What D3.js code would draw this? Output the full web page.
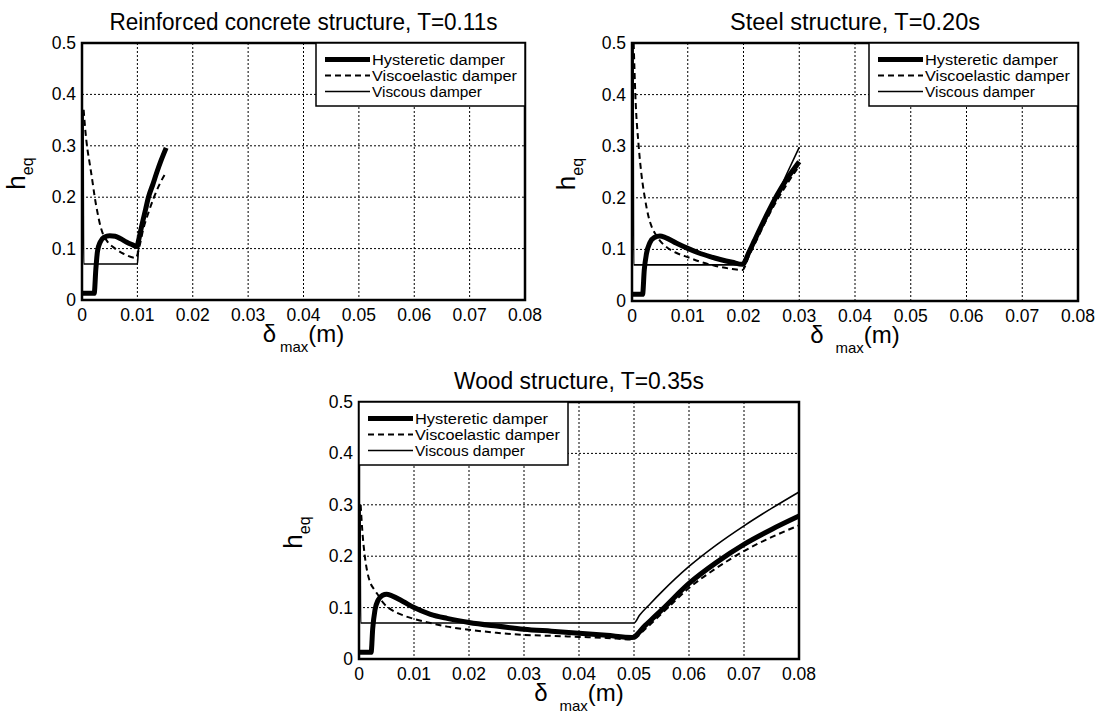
<!DOCTYPE html>
<html>
<head>
<meta charset="utf-8">
<script src="https://cdn.jsdelivr.net/npm/d3@7/dist/d3.min.js"></script>
<style>
  body { margin: 0; background: #fff; }
  text { font-family: "Liberation Sans", Arial, sans-serif; fill: #000; }
  .title { font-family: "Liberation Sans Narrow", "Liberation Sans", Arial, sans-serif; }
</style>
</head>
<body>
<svg id="chart" width="1095" height="717"></svg>
<script>
// ── axis ticks ─────────────────────────────
const X_TICKS = [0, 0.01, 0.02, 0.03, 0.04, 0.05, 0.06, 0.07, 0.08];
const Y_TICKS = [0, 0.1, 0.2, 0.3, 0.4, 0.5];
const SERIES_NAMES = ["Hysteretic damper", "Viscoelastic damper", "Viscous damper"];

// ── reinforced concrete, T=0.11s  [δmax (m), h_eq] ──
const rcHysteretic = [[0,0.013],[0.0022,0.013],[0.0025,0.06],[0.0028,0.095],[0.0033,0.113],[0.004,0.122],[0.005,0.125],[0.006,0.124],[0.007,0.119],[0.008,0.113],[0.009,0.108],[0.0099,0.104],[0.0103,0.12],[0.0108,0.145],[0.0115,0.177],[0.012,0.2],[0.0128,0.225],[0.0135,0.248],[0.0143,0.272],[0.0152,0.296]];
const rcViscoelastic = [[0.0003,0.37],[0.0006,0.33],[0.0009,0.3],[0.0014,0.265],[0.0019,0.23],[0.0023,0.2],[0.0028,0.17],[0.0033,0.145],[0.0038,0.128],[0.0045,0.115],[0.006,0.1],[0.0075,0.09],[0.0097,0.082],[0.0105,0.11],[0.011,0.135],[0.012,0.17],[0.013,0.2],[0.014,0.225],[0.015,0.245]];
const rcViscous = [[0.0002,0.37],[0.0003,0.07],[0.01,0.07],[0.0102,0.1],[0.0108,0.135],[0.0115,0.17],[0.012,0.195],[0.013,0.23],[0.014,0.263],[0.015,0.295]];

// ── steel, T=0.20s ─────────────────────────
const stHysteretic = [[0,0.013],[0.0019,0.013],[0.0022,0.06],[0.0026,0.092],[0.0032,0.113],[0.004,0.123],[0.005,0.126],[0.006,0.123],[0.008,0.112],[0.01,0.102],[0.012,0.093],[0.014,0.086],[0.016,0.08],[0.018,0.075],[0.0198,0.071],[0.021,0.095],[0.022,0.118],[0.024,0.163],[0.026,0.205],[0.028,0.24],[0.03,0.27]];
const stViscoelastic = [[0.0003,0.5],[0.0006,0.4],[0.0012,0.3],[0.0017,0.245],[0.0023,0.2],[0.003,0.162],[0.0036,0.142],[0.0042,0.13],[0.005,0.117],[0.006,0.106],[0.008,0.093],[0.01,0.085],[0.012,0.077],[0.015,0.068],[0.018,0.062],[0.0198,0.06],[0.021,0.088],[0.022,0.11],[0.024,0.155],[0.026,0.195],[0.028,0.23],[0.03,0.262]];
const stViscous = [[0.0002,0.5],[0.0003,0.07],[0.02,0.07],[0.0205,0.085],[0.022,0.117],[0.024,0.16],[0.026,0.205],[0.028,0.252],[0.03,0.298]];

// ── wood, T=0.35s ──────────────────────────
const wdHysteretic = [[0,0.013],[0.0022,0.013],[0.0025,0.06],[0.0029,0.095],[0.0035,0.115],[0.0043,0.124],[0.005,0.126],[0.006,0.123],[0.008,0.112],[0.01,0.1],[0.013,0.087],[0.016,0.079],[0.02,0.071],[0.025,0.064],[0.03,0.058],[0.035,0.054],[0.04,0.05],[0.045,0.046],[0.0497,0.042],[0.052,0.065],[0.055,0.095],[0.06,0.147],[0.065,0.188],[0.07,0.223],[0.075,0.252],[0.08,0.278]];
const wdViscoelastic = [[0.0003,0.3],[0.0006,0.25],[0.001,0.205],[0.0015,0.17],[0.002,0.15],[0.0028,0.135],[0.0035,0.124],[0.0045,0.108],[0.006,0.095],[0.008,0.085],[0.01,0.078],[0.013,0.07],[0.016,0.063],[0.02,0.057],[0.025,0.051],[0.03,0.047],[0.035,0.045],[0.04,0.043],[0.045,0.041],[0.0497,0.038],[0.052,0.058],[0.055,0.088],[0.06,0.138],[0.065,0.177],[0.07,0.21],[0.075,0.237],[0.08,0.26]];
const wdViscous = [[0.0002,0.3],[0.0003,0.07],[0.05,0.07],[0.051,0.085],[0.053,0.108],[0.055,0.13],[0.06,0.18],[0.065,0.222],[0.07,0.259],[0.075,0.293],[0.08,0.325]];

// line styles per series: hysteretic, viscoelastic, viscous
const STYLES = [
  { width: 5,   dash: null },
  { width: 2,   dash: "6,4" },
  { width: 1.6, dash: null }
];

const PANELS = [
  { title: "Reinforced concrete structure, T=0.11s", titleW: 388,
    x: 82, y: 43, w: 443, h: 257, legend: "right",
    series: [rcHysteretic, rcViscoelastic, rcViscous] },
  { title: "Steel structure, T=0.20s", titleW: 250,
    x: 632, y: 43, w: 446, h: 258, legend: "right",
    series: [stHysteretic, stViscoelastic, stViscous] },
  { title: "Wood structure, T=0.35s", titleW: 250,
    x: 359, y: 402, w: 440, h: 257, legend: "left",
    series: [wdHysteretic, wdViscoelastic, wdViscous] }
];

const svg = d3.select("#chart");
const fmt = d3.format("~g");

PANELS.forEach((p, pi) => {
  const xs = d3.scaleLinear().domain([0, 0.08]).range([p.x, p.x + p.w]);
  const ys = d3.scaleLinear().domain([0, 0.5]).range([p.y + p.h, p.y]);
  const g = svg.append("g");

  // clip
  svg.append("clipPath").attr("id", "clip" + pi)
    .append("rect").attr("x", p.x).attr("y", p.y).attr("width", p.w).attr("height", p.h);

  // grid
  g.selectAll(".gx").data(X_TICKS.slice(1, -1)).join("line")
    .attr("x1", d => xs(d)).attr("x2", d => xs(d))
    .attr("y1", p.y).attr("y2", p.y + p.h)
    .attr("stroke", "#000").attr("stroke-width", 1).attr("stroke-dasharray", "2,2");
  g.selectAll(".gy").data(Y_TICKS.slice(1, -1)).join("line")
    .attr("y1", d => ys(d)).attr("y2", d => ys(d))
    .attr("x1", p.x).attr("x2", p.x + p.w)
    .attr("stroke", "#000").attr("stroke-width", 1).attr("stroke-dasharray", "2,2");

  // tick labels
  g.selectAll(".tx").data(X_TICKS).join("text")
    .attr("x", d => xs(d)).attr("y", p.y + p.h + 21)
    .attr("text-anchor", "middle").attr("font-size", 17.5)
    .text(d => fmt(d));
  g.selectAll(".ty").data(Y_TICKS).join("text")
    .attr("x", p.x - 6).attr("y", d => ys(d) + 6)
    .attr("text-anchor", "end").attr("font-size", 17.5)
    .text(d => fmt(d));

  // curves
  const line = d3.line().x(d => xs(d[0])).y(d => ys(d[1])).curve(d3.curveMonotoneX);
  const curves = g.append("g").attr("clip-path", `url(#clip${pi})`);
  p.series.forEach((data, si) => {
    curves.append("path").datum(data)
      .attr("d", line)
      .attr("fill", "none").attr("stroke", "#000")
      .attr("stroke-width", STYLES[si].width)
      .attr("stroke-dasharray", STYLES[si].dash)
      .attr("stroke-linejoin", "round");
  });

  // frame
  g.append("rect").attr("x", p.x).attr("y", p.y).attr("width", p.w).attr("height", p.h)
    .attr("fill", "none").attr("stroke", "#000").attr("stroke-width", 2.5);

  // legend
  const lw = 209, lh = 63;
  const lx = p.legend === "right" ? p.x + p.w - lw : p.x;
  const lg = g.append("g").attr("transform", `translate(${lx},${p.y})`);
  lg.append("rect").attr("width", lw).attr("height", lh)
    .attr("fill", "#fff").attr("stroke", "#000").attr("stroke-width", 1.5);
  SERIES_NAMES.forEach((name, si) => {
    const cy = 16.5 + si * 16;
    lg.append("line").attr("x1", 9).attr("x2", 54).attr("y1", cy).attr("y2", cy)
      .attr("stroke", "#000").attr("stroke-width", STYLES[si].width)
      .attr("stroke-dasharray", STYLES[si].dash);
    lg.append("text").attr("x", 56).attr("y", cy + 5.5)
      .attr("font-size", 14)
      .attr("textLength", [133, 145, 110][si]).attr("lengthAdjust", "spacingAndGlyphs")
      .text(name);
  });

  // title
  svg.append("text").attr("class", "title")
    .attr("x", p.x + p.w / 2).attr("y", p.y - 13)
    .attr("text-anchor", "middle").attr("font-size", 23)
    .attr("textLength", p.titleW).attr("lengthAdjust", "spacingAndGlyphs")
    .text(p.title);

  // x label: δ max (m)
  const xl = svg.append("text")
    .attr("x", p.x + p.w / 2).attr("y", p.y + p.h + 42)
    .attr("text-anchor", "middle");
  xl.append("tspan").attr("font-size", 24).text("δ");
  xl.append("tspan").attr("font-size", 15).attr("dx", pi === 0 ? 4 : 12).attr("dy", 10).text("max");
  xl.append("tspan").attr("font-size", 24).attr("dy", -10).text("(m)");

  // y label: h_eq
  const yl = svg.append("text")
    .attr("transform", `translate(${p.x - 57},${p.y + p.h / 2 + 2}) rotate(-90)`)
    .attr("text-anchor", "middle");
  yl.append("tspan").attr("font-size", 26).text("h");
  yl.append("tspan").attr("font-size", 16).attr("dy", 8).text("eq");
});
</script>
</body>
</html>
